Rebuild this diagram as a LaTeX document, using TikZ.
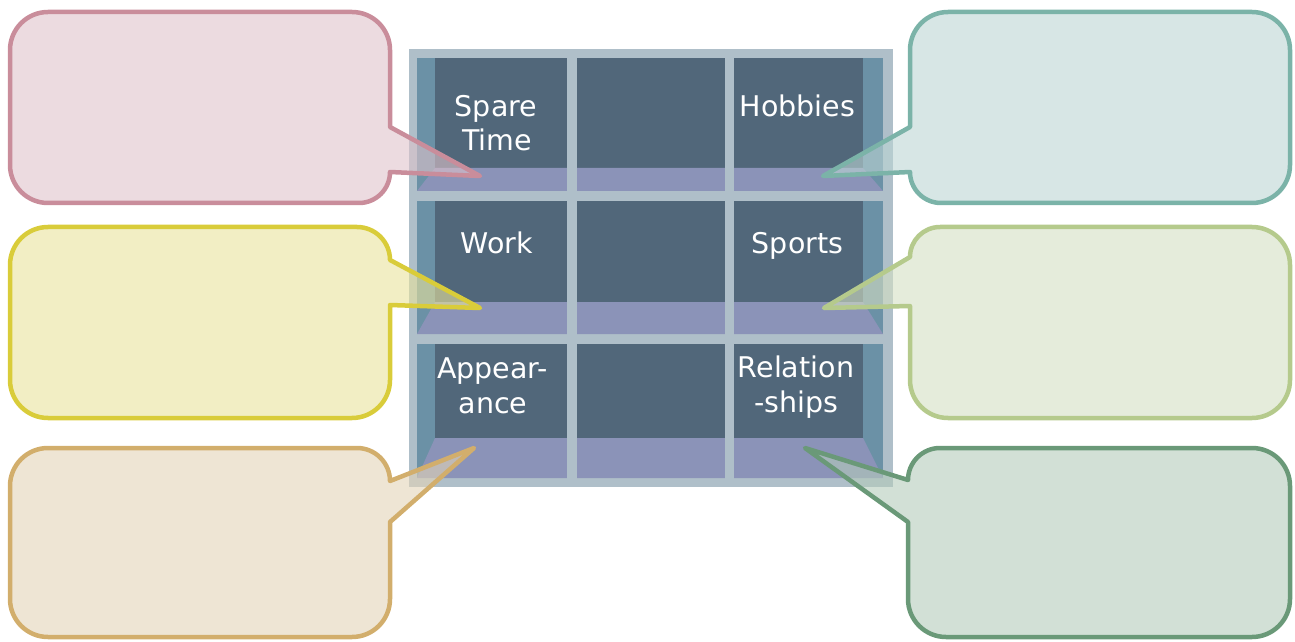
\documentclass[tikz,border=0pt]{standalone}
\usepackage{fontspec}
\newfontfamily\lblfont{DejaVu Sans}
\definecolor{frameC}{RGB}{175,191,201}
\definecolor{sideC}{RGB}{107,145,166}
\definecolor{backC}{RGB}{81,103,122}
\definecolor{floorC}{RGB}{139,147,184}
\definecolor{pinkS}{RGB}{201,141,155}\definecolor{pinkF}{RGB}{223,195,203}
\definecolor{yelS}{RGB}{217,204,58}\definecolor{yelF}{RGB}{233,227,157}
\definecolor{tanS}{RGB}{210,174,108}\definecolor{tanF}{RGB}{227,212,183}
\definecolor{tealS}{RGB}{123,179,168}\definecolor{tealF}{RGB}{188,213,212}
\definecolor{lgS}{RGB}{181,202,140}\definecolor{lgF}{RGB}{212,223,195}
\definecolor{grS}{RGB}{106,153,120}\definecolor{grF}{RGB}{180,203,187}
\tikzset{
  callout/.style={line width=4.5pt, line join=round, fill opacity=0.6},
  lbl/.style={text=white, anchor=base, inner sep=0pt, font=\lblfont\fontsize{28.5}{35}\selectfont}
}
% left callout: style, x1, x2, Ytop, Ybot, Ytail1, tip, Ytail2
\newcommand\LeftCallout[8]{%
  \pgfmathsetmacro\rA{min(38,#4-#6)}%
  \pgfmathsetmacro\rB{min(38,#8-#5)}%
  \draw[#1] (#2+38,#4) -- (#3-\rA,#4) arc[start angle=90,end angle=0,radius=\rA]
    -- (#3,#6) -- (#7) -- (#3,#8) -- (#3,#5+\rB) arc[start angle=0,end angle=-90,radius=\rB]
    -- (#2+38,#5) arc[start angle=270,end angle=180,radius=38]
    -- (#2,#4-38) arc[start angle=180,end angle=90,radius=38] -- cycle;}
% right callout: style, x1, x2, Ytop, Ybot, Ytail1, tip, Ytail2
\newcommand\RightCallout[8]{%
  \pgfmathsetmacro\rA{min(38,#4-#6)}%
  \pgfmathsetmacro\rB{min(38,#8-#5)}%
  \draw[#1] (#2+\rA,#4) -- (#3-38,#4) arc[start angle=90,end angle=0,radius=38]
    -- (#3,#5+38) arc[start angle=0,end angle=-90,radius=38]
    -- (#2+\rB,#5) arc[start angle=270,end angle=180,radius=\rB]
    -- (#2,#8) -- (#7) -- (#2,#6) -- (#2,#4-\rA) arc[start angle=180,end angle=90,radius=\rA] -- cycle;}
\begin{document}
\begin{tikzpicture}[x=1pt,y=1pt]
\useasboundingbox (0,0) rectangle (1295,641);
% shelf
\fill[frameC] (409,154) rectangle (893,592);
\foreach \yb/\yf/\yt in {450/473/583, 307/339/440, 163/203/297}{
  \fill[sideC] (417,\yb) rectangle (883,\yt);
  \fill[backC] (435,\yf) rectangle (863,\yt);
  \fill[floorC] (417,\yb) -- (435,\yf) -- (863,\yf) -- (883,\yb) -- cycle;
}
\fill[frameC] (567,154) rectangle (577,592);
\fill[frameC] (725,154) rectangle (734,592);
% labels
\node[lbl] (spare1) at (496,524) {Spare};
\node[lbl] (spare2) at (497,490) {Time};
\node[lbl] (hobbies) at (797.5,524) {Hobbies};
\node[lbl] (work) at (497,388) {Work};
\node[lbl] (sports) at (797.5,388) {Sports};
\node[lbl] (appear1) at (492.5,263) {Appear-};
\node[lbl] (appear2) at (493,228) {ance};
\node[lbl] (rel1) at (796,264) {Relation};
\node[lbl] (rel2) at (796.5,229) {-ships};
% tail tips
\coordinate (tipA) at (480,465);
\coordinate (tipB) at (480,333);
\coordinate (tipC) at (474,193);
\coordinate (tipD) at (823,465);
\coordinate (tipE) at (824,333);
\coordinate (tipF) at (805,193);
% callouts
\LeftCallout{callout,draw=pinkS,fill=pinkF}{10}{390}{629}{438}{514}{tipA}{469}
\LeftCallout{callout,draw=yelS,fill=yelF}{10}{390}{414}{223}{381}{tipB}{336}
\LeftCallout{callout,draw=tanS,fill=tanF}{10}{390}{193}{4}{160}{tipC}{119}
\RightCallout{callout,draw=tealS,fill=tealF}{910}{1290}{629}{438}{514}{tipD}{469}
\RightCallout{callout,draw=lgS,fill=lgF}{910}{1290}{414}{223}{384}{tipE}{335}
\RightCallout{callout,draw=grS,fill=grF}{908}{1290}{193}{4}{161}{tipF}{119}
\end{tikzpicture}
\end{document}
